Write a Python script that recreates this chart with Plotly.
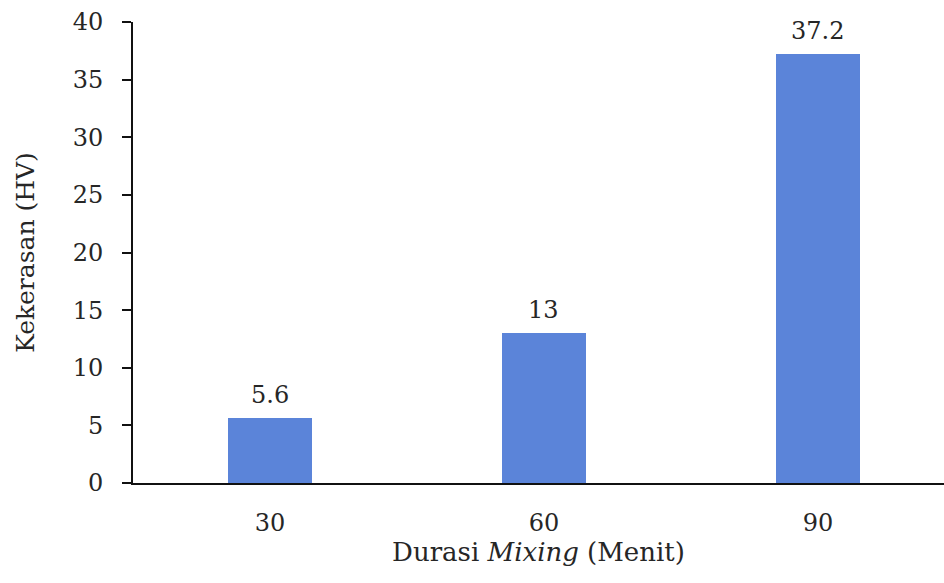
import plotly.graph_objects as go

# Mixing duration (minutes) and measured hardness (HV)
durations = ["30", "60", "90"]
hardness = [5.6, 13, 37.2]
y_ticks = [0, 5, 10, 15, 20, 25, 30, 35, 40]

font_family = "DejaVu Serif"
text_color = "#262626"
bar_color = "#5b84d9"

fig = go.Figure(
    go.Bar(
        x=durations,
        y=hardness,
        width=0.31,
        marker=dict(color=bar_color, line=dict(width=0)),
        cliponaxis=False,
    )
)

# value labels sitting above each bar (category index as x position)
for i, v in enumerate(hardness):
    fig.add_annotation(
        x=i,
        y=v,
        xref="x",
        yref="y",
        text=f"{v:g}",
        showarrow=False,
        yanchor="bottom",
        yshift=7,
        font=dict(family=font_family, size=24, color=text_color),
    )

fig.update_layout(
    width=944,
    height=583,
    margin=dict(l=133, r=0, t=22, b=100),
    paper_bgcolor="white",
    plot_bgcolor="white",
    showlegend=False,
    bargap=0,
    font=dict(family=font_family, color=text_color),
)

fig.update_xaxes(
    type="category",
    range=[-0.5, 2.46],
    showline=True,
    linecolor="#111111",
    linewidth=2,
    ticks="",
    showgrid=False,
    tickfont=dict(family=font_family, size=24, color=text_color),
    ticklabelstandoff=17,
    title=dict(
        text="Durasi <i>Mixing</i> (Menit)",
        font=dict(family=font_family, size=26, color=text_color),
        standoff=7,
    ),
)

fig.update_yaxes(
    range=[0, 40],
    tickvals=y_ticks,
    showline=True,
    linecolor="#111111",
    linewidth=2,
    ticks="outside",
    ticklen=9,
    tickwidth=2,
    tickcolor="#111111",
    showgrid=False,
    zeroline=False,
    tickfont=dict(family=font_family, size=24, color=text_color),
    ticklabelstandoff=14,
    title=dict(
        text="Kekerasan (HV)",
        font=dict(family=font_family, size=25, color=text_color),
        standoff=31,
    ),
)

fig.write_html("out.html")
